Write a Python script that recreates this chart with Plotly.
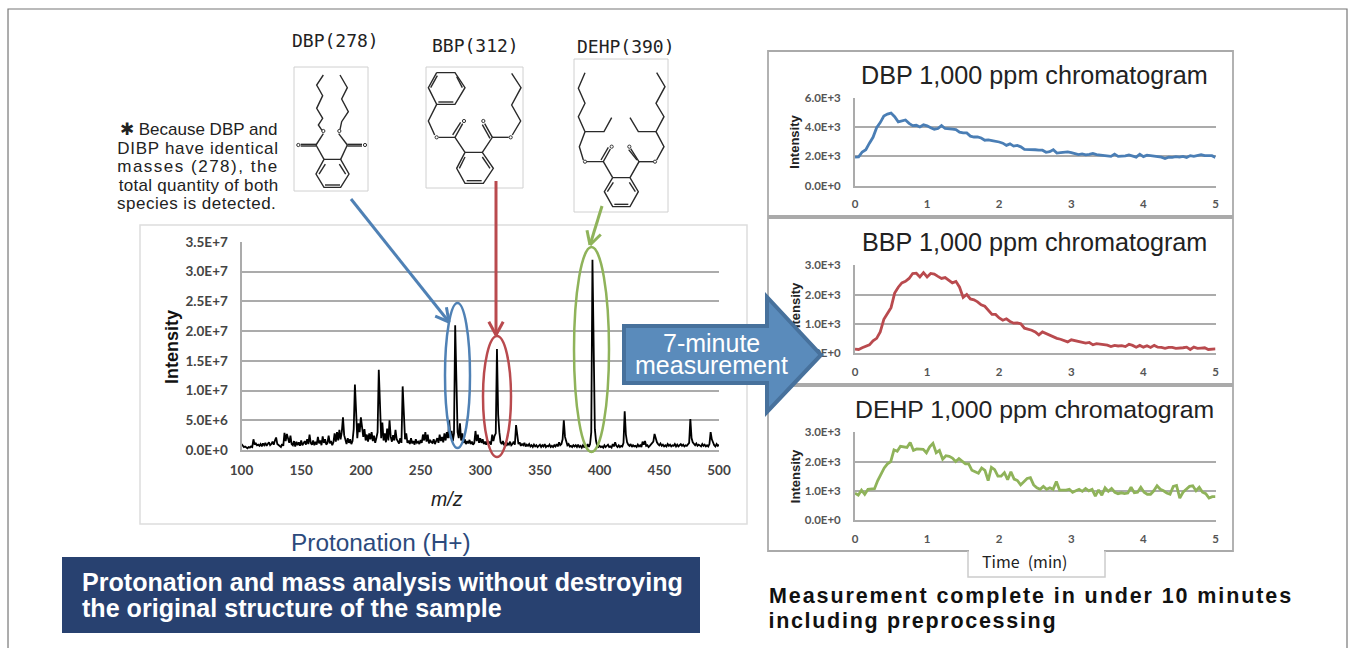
import numpy as np
import plotly.graph_objects as go

W, H = 1357, 648

# ---------- data ----------
spec_ticks = [0, 5e6, 1e7, 1.5e7, 2e7, 2.5e7, 3e7, 3.5e7]
spec_ticktext = ["0.0E+0", "5.0E+6", "1.0E+7", "1.5E+7", "2.0E+7", "2.5E+7", "3.0E+7", "3.5E+7"]
mz_ticks = [100, 150, 200, 250, 300, 350, 400, 450, 500]

# intensity in 1e6, one value per m/z
spec_100 = [1.0,.8,.5,.6,.4,.3,.5,.4,.6,.5, 1.8,.9,1.1,.8,.9,.7,1.0,.6,1.1,.8,
            1.2,.7,1.0,1.3,.8,1.0,1.4,.9,1.6,2.1, 1.0,.8,.7,.5,1.0,.7,2.9,1.5,2.7,1.8,
            1.2,2.4,1.0,.8,1.5,.6,1.4,.8,1.3,.7, 1.6,.8,1.2,1.5,.9,1.8,1.0,2.6,1.2,.9,
            1.6,.8,1.4,.9,2.2,1.1,1.6,.8,2.3,1.2, 1.8,.9,1.2,2.4,1.1,1.5,.8,1.3,2.8,1.4,
            3.0,1.6,3.4,1.8,3.0,5.5,2.5,1.4,1.0,2.0, 1.2,1.8,1.0,1.5,3.5,11.0,5.0,2.0,4.5,3.0]
spec_200 = [5.5,3.2,2.2,3.5,1.6,2.6,1.4,2.8,1.8,3.0, 1.5,2.4,1.2,2.0,3.0,13.5,6.0,2.0,4.6,1.6,
            2.8,1.3,3.6,1.6,5.0,2.2,1.4,2.5,1.6,3.4, 1.8,1.3,1.1,2.0,1.2,10.7,5.5,1.8,2.8,1.2,
            1.6,1.0,2.0,1.1,1.5,.9,1.8,1.2,1.4,1.0, 1.7,1.2,2.6,1.6,3.0,1.4,2.6,1.1,1.7,1.3,
            1.2,1.8,1.0,1.4,2.0,1.2,2.6,1.5,2.2,1.3, 2.8,1.6,3.0,2.0,5.0,2.0,3.2,1.5,2.8,21.0,
            8.0,3.0,2.0,4.5,1.6,2.8,1.2,1.8,1.0,1.5, 1.1,1.7,1.0,1.4,.9,1.2,3.2,1.5,2.6,1.2]
spec_300 = [2.0,1.2,1.8,1.0,1.4,.9,1.6,1.1,1.4,.9, 2.6,1.5,2.4,2.8,17.0,6.0,3.0,1.3,1.0,1.5,
            .8,1.2,.7,1.1,.9,1.4,.8,1.0,1.4,.9, 4.2,2.0,1.0,1.3,.7,1.0,.8,1.2,.6,.9,
            .7,1.0,.6,.8,.5,.9,.6,.8,.5,.7, .9,.5,.8,.6,1.0,.5,.7,.6,.9,.5,
            .7,.5,.8,.6,1.0,.6,1.3,.8,1.0,1.8, 5.0,2.2,1.3,.8,1.0,.6,.7,.5,.8,.6,
            .8,.5,.9,.5,.7,.4,.8,.5,.6,.4, 1.0,.5,1.0,3.0,32.0,12.0,3.5,1.5,.7,.5]
spec_400 = [.7,.5,.6,.4,.8,.5,.7,.9,.5,.6, .4,1.0,.6,1.3,.7,.5,.8,.5,.7,.6,
            1.2,6.5,2.6,1.3,.9,.7,1.0,.5,.8,.6, .7,.5,.9,.6,.8,.5,1.4,.9,1.5,.7,
            .8,.5,.7,.9,1.2,1.4,2.7,1.8,1.3,1.0, .8,1.1,.7,.9,.6,.8,.6,1.0,.7,.9,
            .6,.8,.7,1.0,.6,.9,.6,.8,1.0,.7, .9,.6,.8,.7,1.0,1.2,5.2,2.0,1.3,1.0,
            .8,1.1,.7,.9,.8,.6,1.0,.7,.9,.6, .8,.6,1.0,3.0,1.8,1.2,.8,.6,1.0,.7,.9]
spec_values = spec_100 + spec_200 + spec_300 + spec_400

dbp_k = [1.95,1.97,2.3,2.45,2.9,3.3,3.95,4.3,4.75,4.88,4.95,4.7,4.35,4.4,4.48,4.25,4.1,4.12,4.0,4.15,
         4.08,3.95,3.85,3.9,4.1,3.9,3.85,3.85,3.82,3.65,3.6,3.6,3.38,3.32,3.33,3.25,3.1,3.12,3.08,3.05,
         2.98,2.9,2.75,2.85,2.7,2.75,2.65,2.48,2.48,2.5,2.45,2.42,2.42,2.28,2.32,2.45,2.22,2.25,2.28,2.3,
         2.25,2.18,2.12,2.17,2.1,2.13,2.2,2.12,2.08,2.03,2.02,2.0,2.15,2.0,2.02,2.03,2.1,2.05,1.95,2.15,
         1.98,2.08,2.05,1.98,2.0,1.95,1.85,1.95,1.93,1.98,1.95,2.0,1.92,2.05,2.0,2.05,2.12,2.05,2.05,2.05,1.93]
bbp_k = [.13,.12,.18,.22,.28,.42,.5,.72,1.15,1.35,1.55,2.05,2.25,2.4,2.45,2.55,2.72,2.73,2.6,2.75,
         2.6,2.72,2.7,2.62,2.55,2.58,2.5,2.4,2.45,2.25,1.9,2.0,1.85,1.82,1.75,1.65,1.6,1.45,1.32,1.32,
         1.2,1.12,1.17,1.08,1.02,1.03,1.0,.85,.82,.78,.72,.62,.72,.66,.6,.55,.5,.47,.42,.38,
         .45,.42,.38,.35,.34,.36,.28,.32,.3,.29,.27,.22,.26,.24,.25,.22,.3,.26,.2,.26,
         .2,.25,.19,.26,.2,.19,.16,.19,.19,.16,.16,.18,.2,.12,.2,.16,.17,.18,.12,.14,.14]
dehp_k = [.92,.85,1.02,.88,1.05,1.07,1.07,1.35,1.55,1.78,1.92,2.0,2.4,2.35,2.52,2.5,2.48,2.65,2.38,2.43,
          2.42,2.42,2.3,2.5,2.62,2.3,2.38,2.08,2.2,2.18,2.12,2.0,2.1,2.0,1.92,1.92,1.7,1.65,1.6,1.78,
          1.7,1.35,1.8,1.72,1.5,1.5,1.62,1.38,1.65,1.4,1.35,1.2,1.3,1.42,1.45,1.2,1.1,1.05,1.15,1.05,
          1.1,1.05,1.32,1.02,1.02,1.02,1.05,.95,1.0,1.05,.98,1.08,1.0,1.05,.82,1.03,.85,1.1,.98,1.08,
          .95,.9,.93,.9,.92,1.12,.93,.95,1.12,.95,.88,.88,1.0,1.17,1.05,1.0,.92,.88,1.15,1.18,
          .75,.95,1.05,1.15,1.17,1.0,1.12,.95,.9,.75,.8,.8]

time_ticks = [0, 1, 2, 3, 4, 5]
chroma = [
    dict(name="DBP", title="DBP 1,000 ppm chromatogram", values=dbp_k, ymax=6000, color="#4a7eb5",
         ticks=[0, 2000, 4000, 6000], labels=["0.0E+0", "2.0E+3", "4.0E+3", "6.0E+3"],
         top=97.7, bottom=185.7, title_x=1034, title_y=75, size=25.2),
    dict(name="BBP", title="BBP 1,000 ppm chromatogram", values=bbp_k, ymax=3000, color="#b94a4e",
         ticks=[0, 1000, 2000, 3000], labels=["0.0E+0", "1.0E+3", "2.0E+3", "3.0E+3"],
         top=265.3, bottom=353, title_x=1034, title_y=242, size=25.2),
    dict(name="DEHP", title="DEHP 1,000 ppm chromatogram", values=dehp_k, ymax=3000, color="#8fb35a",
         ticks=[0, 1000, 2000, 3000], labels=["0.0E+0", "1.0E+3", "2.0E+3", "3.0E+3"],
         top=432.3, bottom=520, title_x=1034.5, title_y=409, size=24.8),
]

# molecule skeletons, in pixels of a 3x view; (origin x, origin y)
ORG_A = (110, 25)
ORG_B = (410, 25)
dbp_bonds = [
    [(640,150),(620,180),(638,212),(620,250),(638,280),(625,300),(636,316)],
    [(690,150),(712,188),(695,222),(715,260),(695,290),(690,314)],
    [(640,326),(618,360)],[(686,326),(712,360)],
    [(572,358),(618,358)],[(572,363),(618,363)],[(712,358),(756,358)],[(712,363),(756,363)],
    [(618,360),(642,403)],[(692,403),(712,360)],
    [(642,403),(692,403),(717,447),(692,487),(642,487),(618,447),(642,403)],
    [(646,417),(627,447)],[(688,417),(707,447)],[(645,480),(690,480)],
]
bbp_bonds = [
    [(80,143),(135,143),(165,188),(135,238),(80,238),(55,188),(80,143)],
    [(140,155),(157,188)],[(85,231),(130,231)],[(62,188),(82,152)],
    [(80,238),(55,288),(74,330)],[(86,337),(135,337),(165,382)],
    [(135,337),(158,296)],[(128,330),(152,292)],
    [(165,382),(217,382),(250,430),(220,475),(165,475),(140,430),(165,382)],
    [(165,396),(148,430)],[(217,396),(240,430)],[(170,467),(215,467)],
    [(217,382),(247,337),(224,296)],[(240,340),(217,299)],
    [(247,337),(296,337)],[(307,330),(332,288),(305,240),(333,188),(305,145)],
]
dehp_bonds = [
    [(525,143),(505,190),(525,235),(505,275),(525,320),(508,365),(520,405)],
    [(530,410),(580,410),(601,372)],
    [(573,405),(595,367)],[(580,410),(608,458)],
    [(608,458),(660,458),(685,500),(660,545),(608,545),(583,500),(608,458)],
    [(610,472),(592,500)],[(658,472),(676,500)],[(613,538),(655,538)],
    [(660,458),(687,410),(662,371)],[(681,405),(656,374)],
    [(687,410),(730,410)],[(740,405),(762,365),(738,320),(762,275),(738,235),(765,185),(740,143)],
    [(525,320),(582,320),(605,278)],[(738,320),(685,320),(660,278)],
]
# heteroatom labels of the skeletons: (origin, x, y)
atoms_o = [(ORG_A,640,318),(ORG_A,688,318),(ORG_A,565,360),(ORG_A,765,360),
           (ORG_B,80,337),(ORG_B,302,337),(ORG_B,162,288),(ORG_B,220,288),
           (ORG_B,525,410),(ORG_B,735,410),(ORG_B,605,365),(ORG_B,658,365)]

note_lines = ["\u2731 Because DBP and", "DIBP have identical", "masses (278), the", "total quantity of both", "species is detected."]

# ---------- helpers ----------
def px(x): return x / W
def py(y): return 1 - y / H

shapes = []
annots = []

def path_shape(pts, color, width, layer="above", closed=False, fill=None):
    d = "M " + " L ".join(f"{px(x):.5f},{py(y):.5f}" for x, y in pts) + (" Z" if closed else "")
    s = dict(type="path", xref="paper", yref="paper", path=d, layer=layer,
             line=dict(color=color, width=width))
    if fill:
        s["fillcolor"] = fill
    shapes.append(s)

def rect(x0, y0, x1, y1, color, width=1, fill=None, layer="below"):
    shapes.append(dict(type="rect", xref="paper", yref="paper", layer=layer,
                       x0=px(x0), x1=px(x1), y0=py(y1), y1=py(y0),
                       line=dict(color=color, width=width), fillcolor=fill or "rgba(0,0,0,0)"))

def ellipse(x0, y0, x1, y1, color):
    shapes.append(dict(type="circle", xref="paper", yref="paper", layer="above",
                       x0=px(x0), x1=px(x1), y0=py(y1), y1=py(y0),
                       line=dict(color=color, width=2.5)))

def text(x, y, s, size, color="#222222", family="Liberation Sans", anchor="center", bold=False,
         italic=False, angle=0):
    annots.append(dict(xref="paper", yref="paper", x=px(x), y=py(y), text=s, showarrow=False,
                       xanchor=anchor, yanchor="middle", textangle=angle,
                       font=dict(size=size, color=color, family=family,
                                 weight=700 if bold else 400,
                                 style="italic" if italic else "normal")))

def arrow(p0, p1, color, head=15):
    path_shape([p0, p1], color, 3)
    a = np.arctan2(p1[1] - p0[1], p1[0] - p0[0])
    for da in (0.5, -0.5):
        q = (p1[0] - head * np.cos(a + da), p1[1] - head * np.sin(a + da))
        path_shape([q, p1], color, 3)

# ---------- frame and panels ----------
path_shape([(8, 648), (8, 9), (1347, 9), (1347, 648)], "#777777", 1.2, layer="below")
rect(140, 225, 747, 524, "#dddddd", 1.5)
rect(768, 51, 1233, 216, "#aaaaaa", 1.8)
rect(768, 218, 1233, 384, "#aaaaaa", 1.8)
rect(768, 386, 1233, 551, "#aaaaaa", 1.8)
path_shape([(968, 551), (968, 577), (1105, 577), (1105, 551)], "#cccccc", 1.5, layer="below")
path_shape([(969, 551), (1104, 551)], "#ffffff", 3, layer="below")
rect(294, 67, 368, 191, "#d0d0d0", 1)
rect(426, 67, 523, 188, "#d0d0d0", 1)
rect(574, 59, 668, 212, "#d0d0d0", 1)
rect(62, 557, 700, 633, "#284170", 0, fill="#284170")

# ---------- molecules ----------
for bonds, org in ((dbp_bonds, ORG_A), (bbp_bonds, ORG_B), (dehp_bonds, ORG_B)):
    for b in bonds:
        path_shape([(org[0] + x / 3, org[1] + y / 3) for x, y in b], "#2a2a2a", 1.4)
for org, ax_, ay_ in atoms_o:
    cx, cy = org[0] + ax_ / 3, org[1] + ay_ / 3
    shapes.append(dict(type="circle", xref="paper", yref="paper", layer="above",
                       x0=px(cx - 1.6), x1=px(cx + 1.6), y0=py(cy + 1.6), y1=py(cy - 1.6),
                       line=dict(color="#333333", width=1)))

# ---------- figure and charts ----------
fig = go.Figure()
AXIS_GREY = "#ababab"

sx0, sx1, sy0, sy1 = 241.5, 719, 242, 450
spec_x = np.linspace(100, 500, len(spec_values))
fig.add_trace(go.Scatter(x=spec_x, y=np.array(spec_values) * 1e6, mode="lines", name="Spectrum",
                         line=dict(color="#000000", width=1.8), xaxis="x", yaxis="y",
                         showlegend=False, hoverinfo="skip"))
tick_font = dict(family="Lato", size=13.5, color="#444444", weight=700)
fig.update_layout(
    xaxis=dict(domain=[px(sx0), px(sx1)], range=[100, 500], tickvals=mz_ticks, showgrid=False,
               showline=True, linecolor=AXIS_GREY, linewidth=2, ticks="", ticklabelstandoff=7,
               tickfont=tick_font, anchor="y", zeroline=False),
    yaxis=dict(domain=[py(sy1), py(sy0)], range=[0, 3.5e7], tickvals=spec_ticks, ticktext=spec_ticktext,
               showgrid=True, gridcolor=AXIS_GREY, gridwidth=2, showline=True, linecolor=AXIS_GREY,
               linewidth=2, ticks="", ticklabelstandoff=9, tickfont=tick_font, anchor="x", zeroline=False),
)
text(172, 347, "Intensity", 18, "#111111", "Liberation Sans", bold=True, angle=-90)
text(447, 499, "m/z", 19.5, "#222222", "Liberation Sans", italic=True)

small_font = dict(family="Lato", size=11.5, color="#555555", weight=700)
for i, c in enumerate(chroma):
    n = i + 2
    xa, ya = f"x{n}", f"y{n}"
    t = np.linspace(0, 5, len(c["values"]))
    fig.add_trace(go.Scatter(x=t, y=np.array(c["values"]) * 1000, mode="lines", name=c["name"],
                             line=dict(color=c["color"], width=2.8), xaxis=xa, yaxis=ya,
                             showlegend=False, hoverinfo="skip"))
    fig.layout[f"xaxis{n}"] = dict(domain=[px(855), px(1215.5)], range=[0, 5], tickvals=time_ticks,
                                   showgrid=False, showline=True, linecolor=AXIS_GREY, linewidth=1.8,
                                   ticks="", ticklabelstandoff=7, tickfont=small_font, anchor=ya,
                                   zeroline=False)
    fig.layout[f"yaxis{n}"] = dict(domain=[py(c["bottom"]), py(c["top"])], range=[0, c["ymax"]],
                                   tickvals=c["ticks"], ticktext=c["labels"], showgrid=True,
                                   gridcolor=AXIS_GREY, gridwidth=1.8, showline=True, linecolor=AXIS_GREY,
                                   linewidth=1.8, ticks="", ticklabelstandoff=10, tickfont=small_font,
                                   anchor=xa, zeroline=False)
    text(795, (c["top"] + c["bottom"]) / 2, "Intensity", 13, "#222222", "Liberation Sans", bold=True, angle=-90)
    text(c["title_x"], c["title_y"], c["title"], c["size"], "#222222")

# ---------- overlays ----------
ellipse(445, 303, 470, 448, "#4f81b5")
ellipse(483, 336, 511, 457, "#b94a4e")
ellipse(574, 247, 609, 452, "#8fb35a")
arrow((351, 199), (449, 322), "#4f81b5")
arrow((496, 181), (496, 335), "#b94a4e")
arrow((602, 206), (590, 245), "#8fb35a")

path_shape([(624, 326), (767, 326), (767, 297), (821, 355), (767, 412), (767, 383), (624, 383)],
           "#47719c", 4, closed=True, fill="#5a8bbb")

text(711.5, 343, "7-minute", 25, "#ffffff")
text(711.5, 365, "measurement", 25, "#ffffff")

for lab, x, y in (("DBP(278)", 335, 41), ("BBP(312)", 475, 46), ("DEHP(390)", 626, 47)):
    text(x, y, lab, 18, "#222222", "DejaVu Sans Mono")
text(1024, 561, "Time\u2002(min)", 16, "#222222", "Noto Sans CJK JP")

for k, line in enumerate(note_lines):
    text(198 if k < 4 else 196, 129.5 + k * 18.5, line, 17, "#222222")

text(381, 542, "Protonation (H+)", 24.4, "#2c4a7c")
text(80, 582, "Protonation and mass analysis without destroying", 25.1, "#ffffff", anchor="left", bold=True)
text(80, 608, "the original structure of the sample", 25.1, "#ffffff", anchor="left", bold=True)
text(1031, 596, "Measurement complete in under 10 minutes", 21.5, "#111111", bold=True)
text(913, 621, "including preprocessing", 21.5, "#111111", bold=True)

fig.update_layout(width=W, height=H, margin=dict(l=0, r=0, t=0, b=0, pad=0, autoexpand=False), autosize=False,
                  paper_bgcolor="#ffffff", plot_bgcolor="rgba(0,0,0,0)",
                  shapes=shapes, annotations=annots, showlegend=False, hovermode=False)

post = """
(function(){
  document.body.style.margin='0';
  document.documentElement.style.overflow='hidden';
  var spacing={'DIBP have identical':0.7,'masses (278), the':1.5,'total quantity of both':0.3,'species is detected.':0.5,
               'Measurement complete in under 10 minutes':1.9,'including preprocessing':1.7};
  function fix(){
    var above=document.querySelector('.layer-above');
    document.querySelectorAll('.annotation').forEach(function(n){
      var t=n.textContent.trim();
      if(spacing[t]){var e=n.querySelector('text'); if(e){e.style.letterSpacing=spacing[t]+'px';}}
      if(t==='Intensity'){
        var r=n.getBoundingClientRect();
        if(r.top>260 && r.bottom<360 && above && r.left>700){above.parentNode.insertBefore(n,above);}
      }
    });
  }
  fix(); setTimeout(fix,0); setTimeout(fix,50);
})();
"""
fig.write_html("out.html", post_script=post, config=dict(displayModeBar=False))
